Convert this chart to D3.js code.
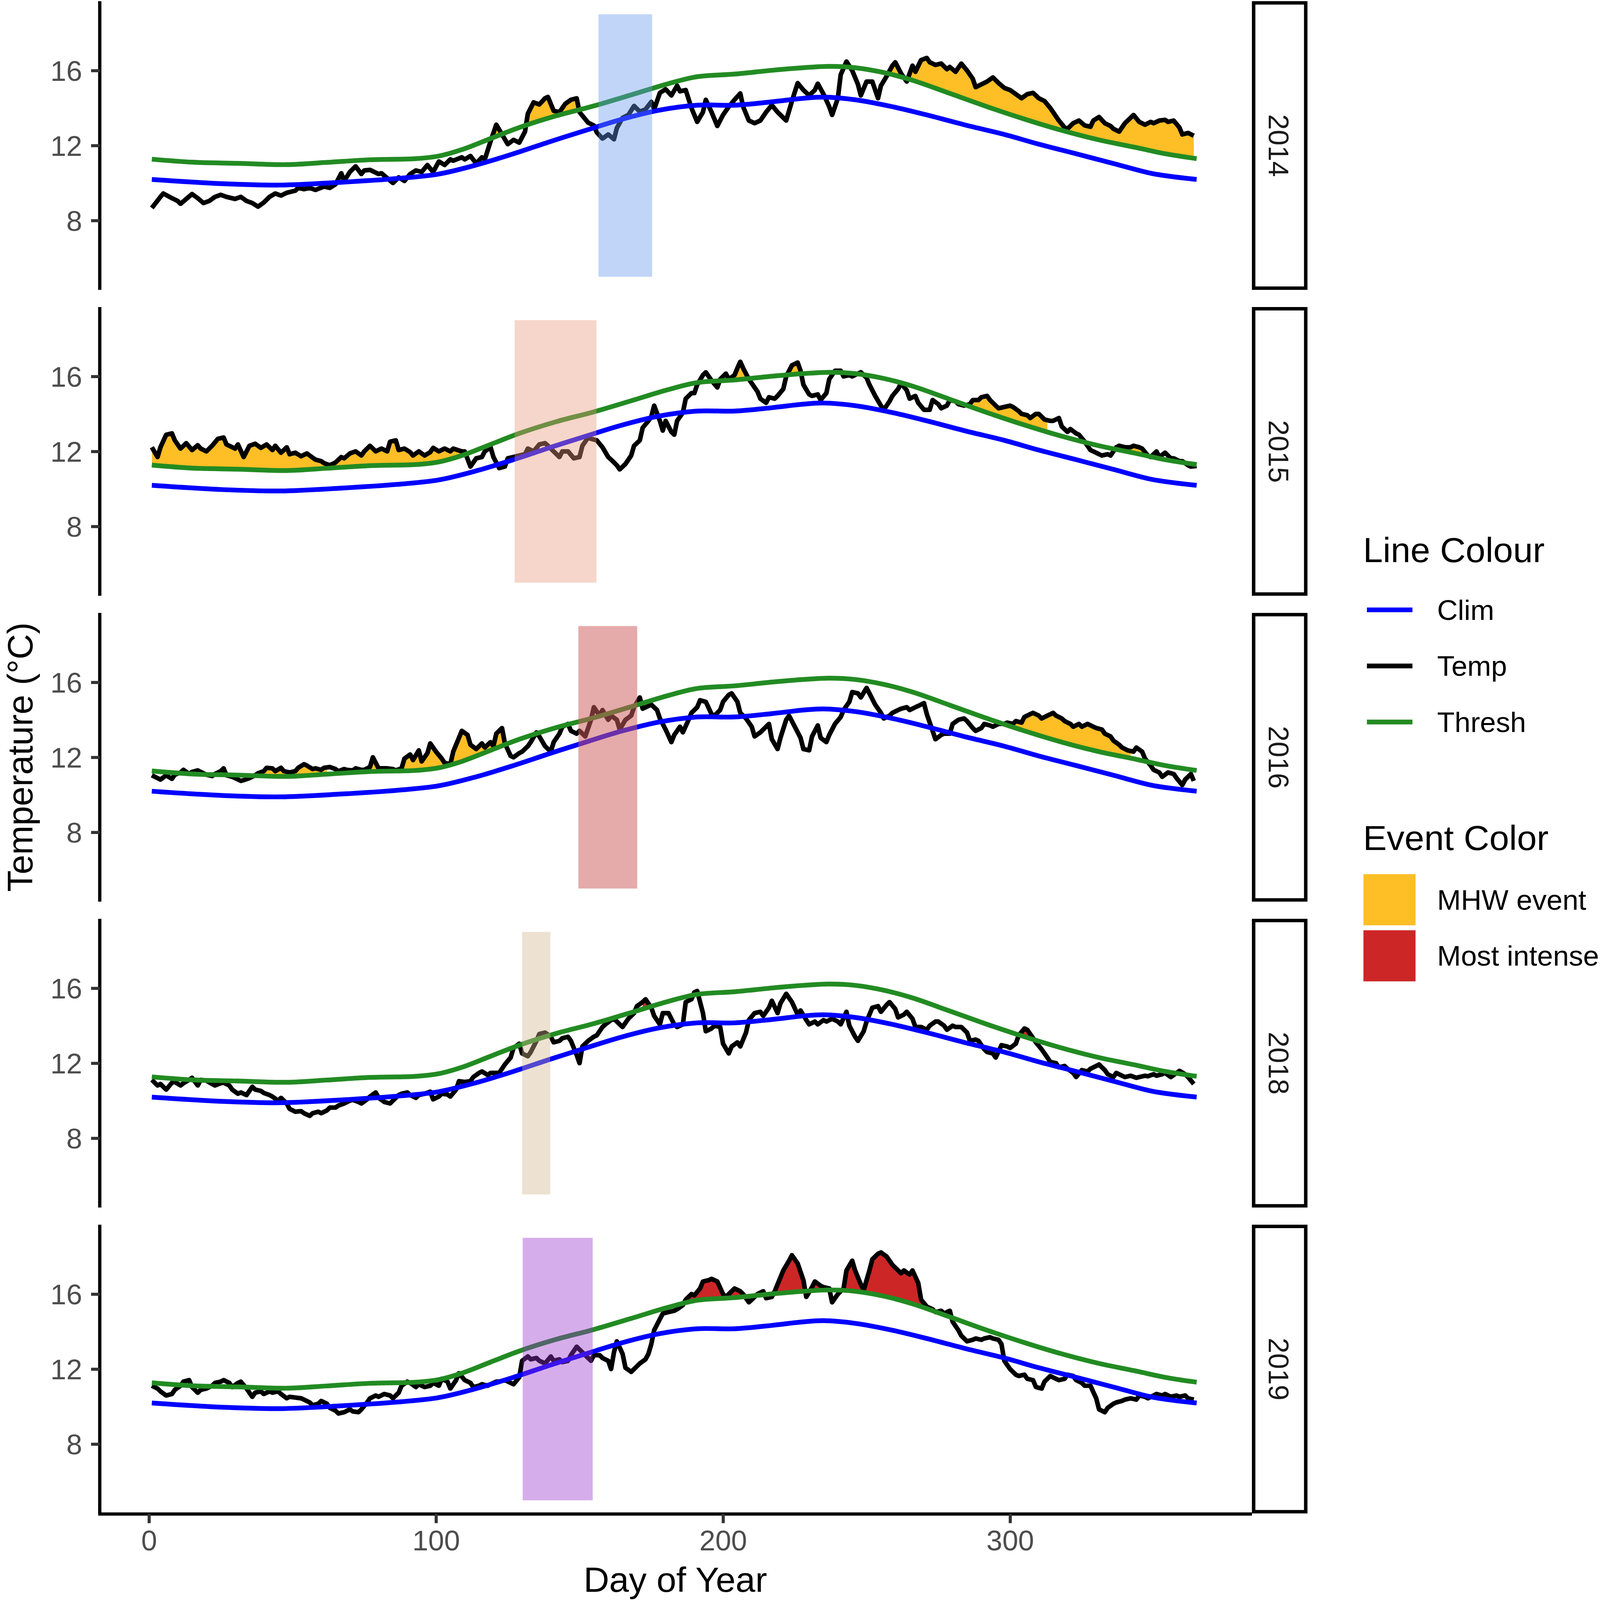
<!DOCTYPE html>
<html><head><meta charset="utf-8">
<script src="https://cdn.jsdelivr.net/npm/d3@7"></script>
<style>html,body{margin:0;padding:0;background:#fff;overflow:hidden}svg{display:block;width:100vw;height:100vh}text{font-family:"Liberation Sans",Arial,sans-serif}</style>
</head><body><svg id="c" viewBox="0 0 4146 4195" preserveAspectRatio="none"></svg>
<script>
// ---------------- DATA ----------------
const years = ["2014","2015","2016","2018","2019"];
const xTicks = [0,100,200,300];
const yTicks = [8,12,16];
const lineSeries = ["Clim","Temp","Thresh"];
const eventTypes = ["MHW event","Most intense"];

const climData = [[1,10.19],[26,9.96],[46,9.89],[67,10.04],[88,10.26],[101,10.48],[114,10.96],[127,11.56],[140,12.22],[153,12.85],[165,13.41],[178,13.89],[191,14.15],[204,14.15],[217,14.33],[228,14.52],[235,14.58],[246,14.44],[259,14.07],[272,13.59],[285,13.07],[298,12.59],[310,12.07],[323,11.56],[336,11.04],[349,10.52],[357,10.33],[365,10.19]];
const threshData = [[1,11.27],[15,11.11],[31,11.05],[48,10.98],[62,11.10],[77,11.24],[93,11.30],[101,11.44],[109,11.78],[119,12.37],[129,12.96],[142,13.59],[155,14.11],[168,14.70],[181,15.30],[191,15.67],[204,15.81],[217,16.01],[228,16.15],[237,16.22],[246,16.15],[256,15.89],[266,15.48],[279,14.78],[292,14.07],[305,13.41],[318,12.81],[331,12.30],[344,11.89],[354,11.56],[365,11.30]];

const temp2014 = [[1,8.67],[4,9.26],[5,9.44],[8,9.19],[10,9.04],[11,8.89],[13,9.15],[15,9.41],[17,9.19],[19,8.93],[21,9.04],[23,9.26],[25,9.37],[27,9.26],[30,9.15],[32,9.26],[34,9.04],[36,8.93],[38,8.74],[40,8.96],[42,9.26],[44,9.44],[46,9.33],[48,9.48],[51,9.59],[52,9.74],[54,9.67],[56,9.74],[58,9.63],[61,9.81],[63,9.74],[65,9.93],[67,10.52],[68,10.11],[70,10.59],[72,10.89],[74,10.48],[75,10.67],[77,10.70],[80,10.48],[81,10.52],[83,10.26],[85,10.00],[87,10.30],[89,10.11],[91,10.48],[93,10.67],[95,10.59],[97,10.96],[99,10.59],[101,11.15],[103,10.96],[105,11.26],[106,11.19],[109,11.37],[110,11.26],[112,11.44],[114,11.04],[116,11.37],[117,11.26],[119,12.22],[121,13.11],[123,12.59],[125,12.07],[127,12.30],[129,12.15],[131,12.74],[132,13.70],[134,14.30],[136,14.19],[138,14.52],[139,14.59],[141,13.85],[143,13.78],[145,14.22],[147,14.44],[149,14.52],[150,13.78],[153,13.22],[155,13.07],[156,12.70],[158,12.37],[160,12.59],[162,12.33],[163,12.93],[165,13.48],[167,13.63],[169,14.11],[171,13.81],[173,13.93],[175,14.33],[176,13.93],[178,14.81],[180,15.00],[182,14.67],[184,15.19],[185,14.89],[187,14.96],[189,14.00],[191,13.26],[193,13.78],[194,14.44],[196,13.78],[198,13.04],[200,13.63],[202,14.07],[204,14.44],[206,14.78],[207,14.07],[209,13.33],[211,13.19],[213,13.33],[215,13.78],[217,14.15],[219,13.78],[220,13.63],[222,13.33],[224,14.37],[226,15.33],[228,14.96],[230,14.67],[232,14.96],[233,15.30],[235,14.74],[237,14.07],[238,13.63],[240,14.52],[241,15.78],[243,16.48],[245,16.00],[247,15.26],[248,14.67],[250,15.41],[252,15.41],[254,14.52],[255,15.19],[257,15.70],[259,16.26],[260,16.44],[262,15.85],[264,15.41],[266,16.26],[267,15.93],[269,16.56],[271,16.67],[272,16.44],[274,16.30],[276,16.37],[278,16.07],[279,16.19],[281,15.93],[283,16.37],[285,16.00],[287,15.56],[288,15.11],[290,15.26],[292,15.41],[294,15.63],[296,15.33],[298,15.07],[300,14.96],[302,14.74],[304,14.52],[306,14.74],[308,14.81],[310,14.52],[312,14.37],[314,14.00],[315,13.78],[317,13.33],[319,12.96],[320,12.89],[322,13.19],[324,13.33],[326,13.07],[328,13.00],[329,13.33],[331,13.52],[333,13.19],[335,13.04],[336,12.89],[338,12.74],[340,13.19],[342,13.48],[343,13.63],[345,13.26],[347,13.11],[349,13.26],[350,13.19],[352,13.33],[354,13.37],[355,13.26],[357,13.33],[359,12.96],[360,12.59],[362,12.67],[364,12.52]];
const temp2015 = [[1,12.22],[3,11.70],[4,12.22],[6,12.89],[8,12.96],[9,12.59],[11,12.15],[13,12.44],[15,12.07],[17,12.33],[18,12.15],[20,12.00],[22,12.30],[24,12.67],[26,12.74],[27,12.37],[30,12.15],[31,12.37],[33,11.70],[35,12.30],[37,12.41],[39,12.19],[41,12.37],[43,12.07],[44,12.30],[46,11.93],[48,12.22],[49,11.85],[51,11.93],[53,11.74],[55,11.89],[56,11.78],[58,11.56],[60,11.48],[61,11.37],[63,11.26],[65,11.41],[67,11.70],[68,11.63],[70,11.89],[72,12.00],[74,11.78],[75,12.00],[77,12.30],[79,12.00],[81,12.15],[83,12.00],[84,12.52],[86,12.59],[87,12.07],[89,12.15],[91,11.96],[92,11.78],[94,12.00],[96,11.78],[98,11.96],[99,12.19],[101,12.00],[103,12.15],[105,12.00],[106,12.15],[109,12.00],[110,12.00],[112,11.19],[114,11.63],[116,11.70],[117,12.00],[119,12.22],[120,11.70],[122,11.11],[124,11.19],[125,11.63],[127,11.70],[129,11.78],[131,11.85],[132,12.15],[134,12.00],[136,12.37],[138,12.44],[139,12.30],[141,12.00],[143,11.70],[144,12.00],[146,12.00],[148,11.63],[150,11.70],[151,12.30],[153,12.74],[154,12.67],[156,12.59],[158,12.22],[160,11.70],[161,11.56],[163,11.26],[164,11.04],[166,11.33],[168,11.78],[169,12.30],[171,12.59],[172,13.26],[174,13.63],[175,13.85],[176,14.44],[178,13.63],[179,13.11],[180,13.63],[182,13.04],[183,12.89],[184,13.63],[186,14.07],[187,14.81],[189,15.11],[190,15.11],[191,15.56],[193,16.07],[194,16.22],[196,15.78],[198,15.41],[199,15.85],[201,16.15],[202,15.85],[204,16.07],[205,16.44],[206,16.78],[207,16.44],[209,15.85],[211,15.41],[212,15.19],[213,14.81],[215,14.59],[216,14.89],[218,14.81],[219,14.96],[221,15.33],[222,16.00],[224,16.59],[226,16.74],[227,16.30],[228,15.56],[230,15.04],[231,14.96],[233,15.04],[234,14.74],[236,15.11],[237,15.85],[239,16.30],[241,16.30],[242,16.00],[244,16.07],[245,16.00],[247,16.15],[248,16.22],[250,15.93],[251,15.56],[253,14.96],[255,14.44],[256,14.22],[258,14.67],[259,14.96],[261,15.33],[262,15.63],[264,15.26],[265,14.81],[267,14.96],[268,14.59],[270,14.22],[272,14.22],[273,14.74],[275,14.52],[276,14.30],[278,14.44],[279,14.74],[281,14.67],[282,14.52],[284,14.44],[286,14.52],[287,14.74],[289,14.74],[290,14.89],[292,14.96],[293,14.74],[295,14.44],[296,14.30],[298,14.37],[300,14.44],[301,14.37],[303,14.15],[304,14.00],[306,13.93],[307,13.78],[309,14.00],[310,14.00],[312,13.70],[314,13.63],[315,13.63],[317,13.78],[318,13.33],[320,13.04],[321,13.19],[323,12.96],[324,12.89],[326,12.52],[328,12.07],[329,12.00],[331,11.85],[332,11.78],[334,11.85],[335,11.78],[337,12.22],[338,12.30],[340,12.22],[342,12.22],[343,12.30],[345,12.22],[346,12.15],[348,11.78],[349,11.70],[351,12.00],[352,11.70],[354,11.93],[356,11.63],[357,11.63],[359,11.48],[360,11.48],[362,11.26],[363,11.19],[365,11.22]];
const temp2016 = [[1,11.04],[3,10.89],[4,10.81],[6,11.04],[8,10.85],[9,11.07],[11,11.19],[12,11.33],[14,11.11],[15,11.22],[17,11.30],[18,11.22],[20,11.07],[22,11.00],[23,11.11],[25,11.26],[26,11.41],[27,11.04],[29,10.96],[30,10.89],[32,10.74],[33,10.78],[35,10.89],[37,11.04],[38,11.15],[40,11.26],[41,11.44],[43,11.41],[44,11.26],[46,11.44],[47,11.26],[49,11.19],[51,11.26],[52,11.44],[54,11.63],[55,11.56],[57,11.37],[58,11.41],[60,11.33],[61,11.44],[63,11.48],[65,11.37],[66,11.26],[68,11.37],[69,11.33],[71,11.30],[72,11.41],[74,11.33],[75,11.33],[77,11.48],[78,12.00],[80,11.41],[82,11.41],[83,11.41],[85,11.37],[86,11.30],[88,11.41],[89,11.93],[91,12.15],[92,11.85],[94,12.37],[95,11.78],[97,12.22],[98,12.74],[100,12.30],[102,11.93],[103,11.70],[105,11.63],[106,12.30],[108,13.04],[109,13.41],[111,13.19],[112,12.67],[114,12.44],[116,12.74],[117,12.52],[119,12.81],[120,12.59],[121,13.26],[123,13.56],[124,12.74],[126,12.07],[127,12.00],[129,12.22],[130,12.30],[132,12.59],[133,12.81],[135,13.33],[136,13.11],[138,12.59],[140,12.30],[141,12.81],[143,13.26],[144,13.63],[146,13.78],[147,13.41],[149,13.26],[150,13.41],[152,13.11],[154,14.00],[155,14.67],[157,14.22],[158,14.52],[160,14.00],[161,14.22],[163,14.00],[164,13.48],[166,14.00],[168,14.22],[169,14.67],[171,15.19],[172,14.59],[174,14.74],[175,14.81],[177,14.52],[178,14.07],[180,13.48],[182,12.81],[183,13.19],[185,13.63],[186,13.33],[188,14.00],[189,14.37],[191,14.67],[192,15.04],[194,14.96],[196,14.30],[197,14.22],[199,14.52],[200,14.96],[202,15.33],[203,15.41],[205,14.96],[206,14.37],[208,14.07],[210,13.63],[211,13.11],[213,13.33],[214,13.48],[216,13.78],[217,12.96],[219,12.44],[220,13.04],[222,14.00],[223,14.22],[225,13.63],[227,13.04],[228,12.44],[230,12.37],[231,13.11],[233,13.70],[234,13.04],[236,12.81],[237,13.19],[239,13.78],[241,14.15],[242,14.52],[244,14.96],[245,15.48],[247,15.41],[248,15.19],[250,15.70],[251,15.41],[253,14.81],[255,14.37],[256,14.07],[258,14.22],[259,14.37],[261,14.52],[262,14.59],[264,14.67],[265,14.52],[267,14.67],[268,14.74],[270,14.89],[271,14.30],[273,13.41],[274,12.96],[276,13.19],[277,13.26],[279,13.26],[280,13.78],[282,14.00],[284,14.07],[285,13.93],[287,13.56],[288,13.41],[290,13.56],[291,13.78],[293,13.70],[294,13.63],[296,13.78],[298,13.78],[299,13.85],[301,13.78],[302,13.93],[304,13.85],[305,14.15],[307,14.30],[308,14.37],[310,14.22],[311,14.07],[313,14.22],[315,14.37],[316,14.22],[318,14.07],[319,13.93],[321,13.78],[322,13.63],[324,13.78],[325,13.63],[327,13.78],[329,13.63],[330,13.56],[332,13.48],[333,13.26],[335,13.11],[336,12.89],[338,12.67],[339,12.52],[341,12.37],[343,12.30],[344,12.52],[346,12.30],[347,11.93],[349,11.56],[350,11.33],[352,11.19],[353,10.96],[355,11.19],[357,11.11],[358,10.89],[360,10.52],[361,10.81],[363,11.11],[364,10.74]];
const temp2018 = [[1,11.11],[3,10.81],[4,10.89],[6,10.59],[8,10.96],[9,11.00],[11,10.81],[12,10.93],[14,11.11],[15,11.22],[17,10.81],[18,11.11],[20,11.07],[22,10.89],[23,10.81],[25,10.93],[26,10.96],[28,10.81],[29,10.59],[31,10.37],[32,10.44],[34,10.30],[36,10.74],[37,10.59],[39,10.52],[40,10.41],[42,10.30],[43,10.22],[45,10.00],[46,10.15],[48,9.85],[49,9.56],[51,9.41],[53,9.44],[54,9.33],[56,9.19],[57,9.33],[59,9.41],[60,9.33],[62,9.48],[63,9.63],[65,9.63],[66,9.74],[68,9.85],[70,10.00],[71,10.04],[73,9.93],[74,9.85],[76,10.07],[77,10.22],[79,10.44],[80,10.15],[82,9.93],[84,9.85],[85,10.00],[87,10.30],[88,10.37],[90,10.44],[91,10.30],[93,10.15],[94,10.30],[96,10.37],[98,10.48],[99,10.07],[101,10.22],[102,10.37],[104,10.33],[105,10.22],[107,10.59],[108,11.04],[110,11.00],[112,11.04],[113,11.26],[115,11.48],[116,11.56],[118,11.37],[119,11.48],[121,11.48],[122,11.48],[124,11.93],[126,12.30],[127,12.81],[129,13.04],[130,12.52],[132,12.37],[133,12.59],[135,13.19],[136,13.56],[138,13.63],[140,13.41],[141,13.11],[143,13.19],[144,13.33],[146,13.41],[147,13.19],[149,12.44],[150,12.00],[151,12.89],[153,13.19],[155,13.41],[156,13.48],[158,13.93],[159,14.07],[161,14.30],[162,14.37],[164,14.07],[165,13.93],[167,14.37],[169,14.67],[170,15.04],[172,15.26],[173,15.41],[175,14.96],[176,14.52],[178,14.07],[179,14.67],[181,14.67],[183,14.07],[184,13.93],[186,14.07],[187,15.26],[189,15.41],[190,15.78],[191,15.85],[193,14.67],[194,13.70],[196,13.85],[197,14.00],[199,13.93],[200,13.04],[202,12.52],[203,12.89],[205,13.11],[206,12.89],[208,13.63],[209,14.30],[211,14.67],[213,14.74],[214,14.52],[216,14.96],[217,15.33],[219,14.67],[220,15.19],[222,15.70],[224,15.26],[226,14.59],[227,14.81],[229,14.30],[230,14.07],[232,14.22],[233,14.07],[235,14.30],[236,14.22],[238,14.37],[240,14.22],[241,14.07],[243,14.74],[244,14.00],[246,13.41],[247,13.19],[249,13.70],[250,14.22],[252,14.96],[254,15.04],[255,14.74],[257,15.11],[258,15.26],[260,14.89],[261,14.44],[263,14.59],[264,14.74],[266,14.37],[267,13.93],[269,13.93],[271,13.78],[272,14.00],[274,14.22],[275,14.22],[277,14.00],[278,13.78],[280,14.00],[281,13.93],[283,13.93],[285,13.63],[286,13.19],[288,13.26],[289,13.19],[291,12.74],[292,12.59],[294,12.52],[295,12.30],[297,12.96],[299,12.89],[300,12.81],[302,13.04],[303,13.48],[305,13.85],[306,13.78],[308,13.33],[309,13.11],[311,12.74],[313,12.30],[314,12.07],[316,12.00],[317,11.78],[319,11.85],[320,11.70],[322,11.48],[323,11.26],[325,11.63],[327,11.56],[328,11.70],[330,11.85],[331,11.93],[333,11.63],[334,11.41],[336,11.26],[337,11.48],[339,11.33],[340,11.26],[342,11.33],[344,11.22],[345,11.26],[347,11.33],[348,11.30],[350,11.41],[351,11.33],[353,11.41],[354,11.48],[356,11.26],[358,11.48],[359,11.59],[361,11.41],[362,11.26],[364,10.89]];
const temp2019 = [[1,11.11],[3,10.96],[4,10.81],[6,10.59],[8,10.67],[9,10.89],[11,11.11],[12,11.33],[14,11.41],[15,11.04],[17,10.74],[18,10.89],[20,10.96],[22,11.11],[23,11.26],[25,11.33],[26,11.41],[28,11.26],[29,11.04],[31,11.26],[32,11.33],[34,10.96],[36,10.52],[37,10.74],[39,10.81],[40,10.67],[42,10.81],[43,10.74],[45,10.81],[46,10.67],[48,10.44],[49,10.52],[51,10.48],[53,10.44],[54,10.37],[56,10.22],[57,10.07],[59,10.15],[60,10.30],[62,10.15],[63,9.93],[65,9.78],[66,9.63],[68,9.70],[70,9.85],[71,9.74],[73,9.70],[74,9.85],[76,10.22],[77,10.44],[79,10.59],[80,10.52],[82,10.67],[84,10.59],[85,10.44],[87,10.74],[88,11.11],[90,11.33],[91,11.26],[93,11.04],[94,11.19],[96,11.04],[98,11.11],[99,11.26],[101,11.11],[102,11.48],[104,11.33],[105,10.96],[107,11.41],[108,11.78],[110,11.41],[112,11.26],[113,11.04],[115,11.11],[116,11.19],[118,11.11],[119,11.19],[121,11.33],[122,11.33],[124,11.41],[126,11.26],[127,11.19],[129,11.56],[130,12.44],[132,12.67],[133,12.52],[135,12.59],[136,12.44],[138,12.30],[140,12.67],[141,12.44],[143,12.52],[144,12.37],[146,12.44],[147,12.74],[149,13.19],[150,13.04],[152,12.74],[154,12.44],[155,12.74],[157,12.74],[158,12.59],[160,12.44],[161,12.00],[162,12.89],[163,13.48],[165,12.81],[166,12.07],[168,11.85],[170,12.15],[171,12.30],[173,12.52],[174,12.81],[175,13.33],[176,14.07],[178,14.67],[179,14.96],[181,15.04],[183,15.11],[184,15.19],[186,15.41],[187,15.70],[189,16.00],[190,15.93],[192,16.30],[193,16.67],[195,16.74],[196,16.81],[198,16.67],[200,16.00],[201,15.85],[203,16.15],[204,16.30],[206,16.15],[207,16.00],[209,15.56],[210,15.70],[212,16.00],[214,16.15],[215,15.78],[217,15.85],[218,16.15],[220,16.89],[221,17.26],[223,17.78],[224,18.07],[226,17.63],[228,16.74],[229,15.85],[231,16.37],[232,16.67],[234,16.44],[235,16.37],[237,16.30],[238,15.56],[240,16.00],[242,16.30],[243,17.26],[245,17.78],[246,17.26],[248,16.52],[249,16.22],[251,17.26],[252,17.85],[254,18.15],[255,18.22],[257,18.00],[259,17.56],[260,17.41],[262,17.11],[263,17.26],[265,17.04],[266,17.26],[268,16.59],[269,15.70],[271,15.33],[273,15.19],[274,15.04],[276,15.11],[277,14.96],[279,15.11],[280,14.52],[282,14.07],[283,13.78],[285,13.48],[287,13.56],[288,13.63],[290,13.56],[291,13.63],[293,13.70],[294,13.63],[296,13.56],[297,13.33],[298,12.44],[300,12.00],[302,11.70],[303,11.63],[305,11.70],[306,11.48],[308,11.41],[309,11.04],[311,10.96],[312,11.33],[314,11.63],[316,11.48],[317,11.41],[319,11.48],[320,11.70],[322,11.63],[323,11.41],[325,11.26],[326,11.11],[328,11.11],[330,10.44],[331,9.85],[333,9.70],[334,9.93],[336,10.15],[337,10.22],[339,10.30],[340,10.37],[342,10.44],[344,10.37],[345,10.59],[347,10.52],[348,10.44],[350,10.59],[351,10.67],[353,10.59],[354,10.67],[356,10.52],[358,10.59],[359,10.52],[361,10.59],[362,10.44],[364,10.37]];
const temps = [temp2014, temp2015, temp2016, temp2018, temp2019];

// event periods filled between threshold and temperature: [start day, end day, type]
const events2014 = [[119,124,"MHW event"],[131,151,"MHW event"],[257,365,"MHW event"]];
const events2015 = [[1,112,"MHW event"],[203,209,"MHW event"],[222,228,"MHW event"],[283,313,"MHW event"],[336,348,"MHW event"]];
const events2016 = [[38,62,"MHW event"],[76,124,"MHW event"],[284,342,"MHW event"]];
const events2018 = [[172,174,"Most intense"],[303,307,"Most intense"]];
const events2019 = [[187,271,"Most intense"]];
const events = [events2014, events2015, events2016, events2018, events2019];

// highlighted period per year: [start day, end day], drawn from 5 to 19 °C
const highlightStart = [156.6,127.4,149.6,130.0,130.2];
const highlightEnd   = [175.3,155.9,170.1,139.8,154.6];
const highlightLow = 5, highlightHigh = 19;

// ---------------- STYLE ----------------
const lineColors = {Clim:"#0000FF", Temp:"#000000", Thresh:"#228B22"};
const eventColors = {"MHW event":"#FDBE26","Most intense":"#CD2626"};
const highlightFill = ["cornflowerblue","darksalmon","indianred","tan","darkorchid"];
const highlightOpacity = [0.4,0.4,0.52,0.4,0.4];
const FONT = '"Liberation Sans", Arial, sans-serif';

const svg = d3.select("#c");
const defs = svg.append("defs");
const x = d3.scaleLinear().domain([-17.25, 384.25]).range([257.7, 3244]);
const panelH = 757, panelStep = 802, panelTop0 = 3;
const smooth = d3.curveCatmullRom.alpha(0.5);

years.forEach((yr, i) => {
  const top = panelTop0 + panelStep*i, bot = top + panelH;
  const y = d3.scaleLinear().domain([4.3, 19.7]).range([bot, top]);
  const g = svg.append("g");

  defs.append("clipPath").attr("id","above"+i).append("path")
    .attr("d", d3.area().x(d=>x(d[0])).y0(d=>y(d[1])).y1(top-5).curve(smooth)(threshData));

  const tempArea = d3.area().x(d=>x(d[0])).y0(bot).y1(d=>y(d[1]));
  events[i].forEach(([a,b,type], j) => {
    defs.append("clipPath").attr("id",`w${i}_${j}`).append("rect")
      .attr("x", x(a)).attr("width", x(b)-x(a)).attr("y", top).attr("height", panelH);
    g.append("g").attr("clip-path",`url(#above${i})`)
      .append("path").attr("clip-path",`url(#w${i}_${j})`)
      .attr("d", tempArea(temps[i])).attr("fill", eventColors[type]);
  });

  g.append("path").attr("d", d3.line().x(d=>x(d[0])).y(d=>y(d[1]))(temps[i]))
    .attr("fill","none").attr("stroke",lineColors.Temp).attr("stroke-width",12)
    .attr("stroke-linejoin","round");
  g.append("path").attr("d", d3.line().x(d=>x(d[0])).y(d=>y(d[1])).curve(smooth)(climData))
    .attr("fill","none").attr("stroke",lineColors.Clim).attr("stroke-width",12.5);
  g.append("path").attr("d", d3.line().x(d=>x(d[0])).y(d=>y(d[1])).curve(smooth)(threshData))
    .attr("fill","none").attr("stroke",lineColors.Thresh).attr("stroke-width",12.5);

  g.append("rect").attr("x", x(highlightStart[i])).attr("width", x(highlightEnd[i]) - x(highlightStart[i]))
    .attr("y", y(highlightHigh)).attr("height", y(highlightLow) - y(highlightHigh))
    .attr("fill", highlightFill[i]).attr("fill-opacity", highlightOpacity[i]);

  const ax = svg.append("g").attr("transform",`translate(258.5,0)`)
    .call(d3.axisLeft(y).tickValues(yTicks).tickSize(22.5).tickSizeOuter(0).tickPadding(23).tickFormat(d3.format("d")));
  ax.select(".domain").attr("stroke","#000").attr("stroke-width",8.5).attr("d",`M0,${top}V${bot}`);
  ax.selectAll(".tick line").attr("stroke","#333333").attr("stroke-width",8);
  ax.selectAll(".tick text").attr("fill","#4D4D4D").attr("font-size",74).attr("font-family",FONT).attr("dy","0.36em");

  svg.append("rect").attr("x",3248.5).attr("y",top+4.5).attr("width",135).attr("height",panelH-9)
    .attr("fill","#fff").attr("stroke","#000").attr("stroke-width",9);
  svg.append("text").attr("transform",`translate(3314,${(top+bot)/2}) rotate(90)`)
    .attr("text-anchor","middle").attr("dy","0.36em").attr("font-size",74).attr("font-family",FONT)
    .attr("fill","#1A1A1A").text(yr);
});

const lastBot = panelTop0 + panelStep*4 + panelH;
const xa = svg.append("g").attr("transform",`translate(0,${lastBot+1.5})`)
  .call(d3.axisBottom(x).tickValues(xTicks).tickSize(24).tickSizeOuter(0).tickPadding(19).tickFormat(d3.format("d")));
xa.select(".domain").attr("stroke","#000").attr("stroke-width",8.5).attr("d",`M254.5,0H3244`);
xa.selectAll(".tick line").attr("stroke","#333333").attr("stroke-width",8);
xa.selectAll(".tick text").attr("fill","#4D4D4D").attr("font-size",74).attr("font-family",FONT);

svg.append("text").attr("x",1750).attr("y",4173).attr("text-anchor","middle")
  .attr("font-size",92).attr("font-family",FONT).attr("fill","#000").text("Day of Year");
svg.append("text").attr("transform","translate(84,1985) rotate(-90)").attr("text-anchor","middle")
  .attr("font-size",92).attr("font-family",FONT).attr("fill","#000").text("Temperature (°C)");

const lg = svg.append("g");
lg.append("text").attr("x",3532).attr("y",1474).attr("font-size",92).attr("font-family",FONT).text("Line Colour");
const keyY = [1599,1746,1893];
lineSeries.forEach((s,k)=>{
  lg.append("line").attr("x1",3542).attr("x2",3660).attr("y1",keyY[k]).attr("y2",keyY[k])
    .attr("stroke",lineColors[s]).attr("stroke-width",12.5);
  lg.append("text").attr("x",3724).attr("y",keyY[k]+26).attr("font-size",74).attr("font-family",FONT).text(s);
});
lg.append("text").attr("x",3532).attr("y",2229).attr("font-size",92).attr("font-family",FONT).text("Event Color");
const boxY = [2292,2439];
eventTypes.forEach((t,k)=>{
  lg.append("rect").attr("x",3533).attr("y",boxY[k]).attr("width",135).attr("height",134).attr("fill",eventColors[t]);
  lg.append("text").attr("x",3724).attr("y",boxY[k]+67+26).attr("font-size",74).attr("font-family",FONT).text(t);
});
</script>
</body></html>
